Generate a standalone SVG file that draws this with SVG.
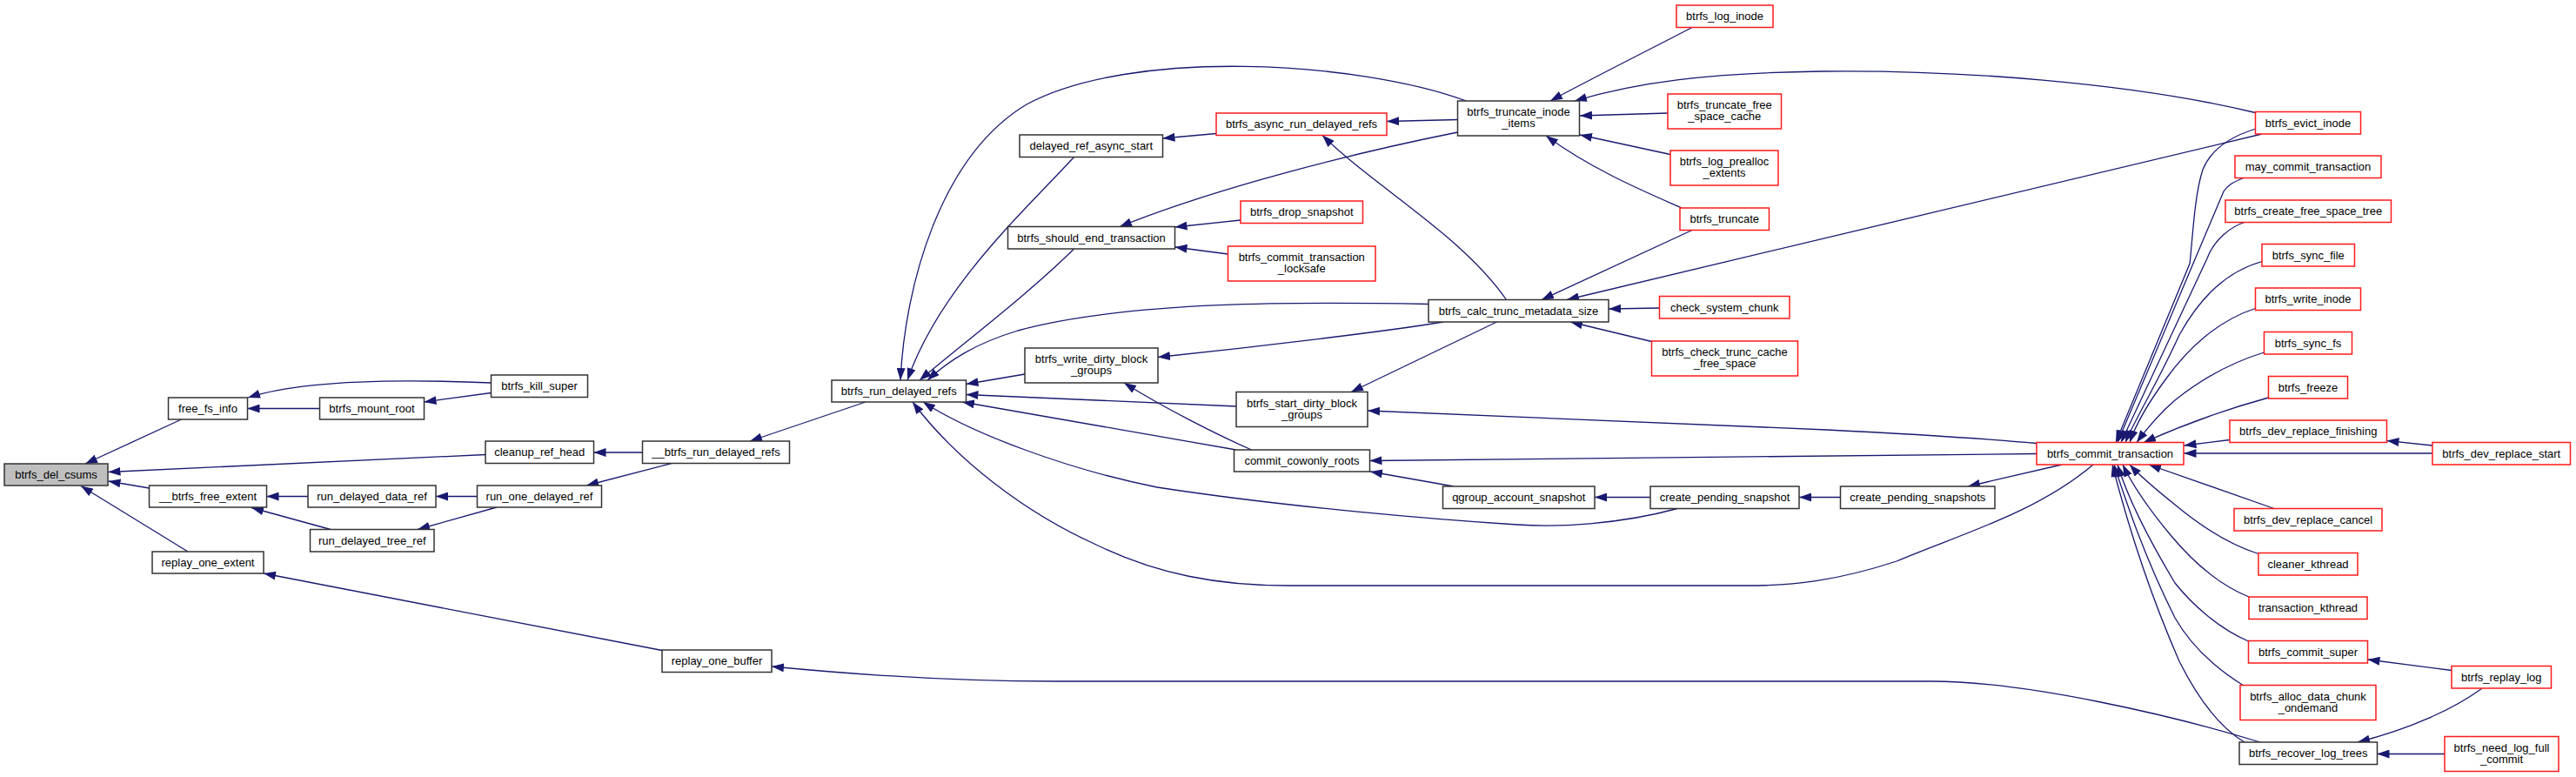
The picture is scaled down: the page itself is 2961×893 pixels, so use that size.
<svg xmlns="http://www.w3.org/2000/svg" width="2961" height="893" viewBox="0 0 2961 893">
<style>
rect{fill:#fff;stroke-width:1.5}
.b{stroke:#333}
.r{stroke:#ff1a1a}
.f{fill:#bfbfbf;stroke:#333}
text{font-family:"Liberation Sans",Arial,sans-serif;font-size:13px;text-anchor:middle;fill:#000}
#edges path{fill:none;stroke:#191970;stroke-width:1.3;marker-end:url(#arr)}
</style>
<defs>
<marker id="arr" markerUnits="userSpaceOnUse" markerWidth="14" markerHeight="10" refX="14" refY="5" orient="auto">
<path d="M0,0 L14,5 L0,10 z" fill="#191970"/>
</marker>
</defs>
<rect x="0" y="0" width="2961" height="893" style="fill:#fff;stroke:none"/>
<g id="edges">
<path d="M208.5,482 L98,533"/>
<path d="M558,522.5 L124.5,542.5"/>
<path d="M171.5,561 L124.5,553"/>
<path d="M216,634 L93,558.5"/>
<path d="M564.5,440 C470,436 350,436 285,457"/>
<path d="M367.5,469.5 L284.5,469.5"/>
<path d="M564.5,451.5 L487.5,462"/>
<path d="M354,570.5 L306.5,570.5"/>
<path d="M380,608.5 L289,583.5"/>
<path d="M548.5,570.5 L501,570.5"/>
<path d="M571,583 L480,608.5"/>
<path d="M738.5,520 L682.5,520"/>
<path d="M772,532.5 L674,558"/>
<path d="M995,462 L862,507"/>
<path d="M761,747.5 L303,659"/>
<path d="M2598,853 C2500,823 2330,783 2220,783 L1212,783 C1100,783 980,775 887,766"/>
<path d="M1685.5,116 C1560,70 1300,55 1180,120 C1080,180 1040,330 1035,437"/>
<path d="M1234.5,180.5 C1180,240 1080,330 1043,437"/>
<path d="M1234.5,286 C1180,340 1100,400 1057,437"/>
<path d="M1642,349.5 C1500,347 1300,345 1170,380 C1120,395 1090,415 1066,437"/>
<path d="M1178,430 L1110.5,441.5"/>
<path d="M1421,467 L1110.5,453.5"/>
<path d="M1421,517 L1106,462"/>
<path d="M1928,584.5 C1860,603 1790,606 1744,603 C1650,597 1480,583 1330,560 C1230,540 1120,500 1061,462"/>
<path d="M2406,534 C2340,590 2250,615 2180,645 C2110,668 2060,673 2008,673 L1480,673 C1400,673 1330,660 1260,626 C1180,590 1100,530 1049,462"/>
<path d="M1398,153.5 L1336.5,159"/>
<path d="M1675.5,137.5 L1594,139.5"/>
<path d="M1731.5,344.5 C1680,270 1580,215 1520,155.5"/>
<path d="M1675.5,152 C1560,175 1400,215 1287,260.5"/>
<path d="M1426,253 L1350.5,261"/>
<path d="M1411.5,292 L1350.5,284"/>
<path d="M1659,370 C1600,380 1450,398 1331,410.5"/>
<path d="M1438.5,517 C1400,500 1340,470 1292,440"/>
<path d="M1720.5,370 L1553,450.5"/>
<path d="M2341,509.5 C2280,504 2220,500 2100,494 L1572,472"/>
<path d="M2341,521.5 L1574.5,529.5"/>
<path d="M1671,559 L1575,542"/>
<path d="M1897,571.5 L1833,571.5"/>
<path d="M2115.5,571.5 L2068,571.5"/>
<path d="M2370,534 L2262,559"/>
<path d="M1945,31.5 C1900,55 1830,90 1782,116"/>
<path d="M2592.5,129.5 C2450,95 2250,80 2093,82 C1960,84 1880,95 1810,116"/>
<path d="M1917,130 L1816,133"/>
<path d="M1920,177.5 L1816,155"/>
<path d="M1933,239 C1890,220 1830,195 1777,156"/>
<path d="M1945,264.5 L1772,344.5"/>
<path d="M2600,154 L1801,344.5"/>
<path d="M1907.5,354 L1849,355"/>
<path d="M1898.5,392.5 L1805,370"/>
<path d="M2593,148 C2560,158 2540,175 2532,195 C2522,225 2520,280 2517,303 L2432,508.5"/>
<path d="M2578.7,204.5 C2565,210 2560,214 2556,220 L2434,508.5"/>
<path d="M2580,255.5 C2565,260 2545,275 2537,297 L2438,508.5"/>
<path d="M2600,300.5 C2560,312 2530,340 2505,385 C2480,440 2455,480 2443,508.5"/>
<path d="M2592.5,354.5 C2550,368 2515,400 2490,435 C2470,462 2456,485 2448,508.5"/>
<path d="M2602.5,405 C2560,418 2525,440 2500,460 C2480,477 2466,495 2456,508.5"/>
<path d="M2607.5,457 C2560,470 2510,488 2464,508.5"/>
<path d="M2563,505.5 L2510.5,512"/>
<path d="M2796,521 L2510.5,521"/>
<path d="M2796,512 L2743.5,506.5"/>
<path d="M2614,584.5 L2470,534"/>
<path d="M2596,636.5 C2560,625 2530,605 2500,580 C2475,560 2458,545 2448,534"/>
<path d="M2585,686 C2550,672 2520,645 2495,615 C2470,585 2450,555 2440,534"/>
<path d="M2584.5,737 C2550,722 2520,695 2500,670 C2470,620 2445,570 2434,534"/>
<path d="M2579,788 C2550,770 2520,745 2500,710 C2465,640 2445,580 2430,534"/>
<path d="M2580,853 C2550,835 2525,800 2505,760 C2470,680 2445,600 2428,534"/>
<path d="M2818,770.5 L2721.5,758"/>
<path d="M2852.5,791.5 C2820,815 2770,838 2710,853"/>
<path d="M2810,866.5 L2732.5,866.5"/>
</g>
<g id="n_btrfs_del_csums"><rect class="f" x="5" y="533" width="119" height="25"/><text x="64.5" y="550">btrfs_del_csums</text></g>
<g id="n_free_fs_info"><rect class="b" x="193.5" y="457" width="91" height="25"/><text x="239" y="474">free_fs_info</text></g>
<g id="n_btrfs_mount_root"><rect class="b" x="367.5" y="457" width="120" height="25"/><text x="427.5" y="474">btrfs_mount_root</text></g>
<g id="n_btrfs_kill_super"><rect class="b" x="564.5" y="431" width="111" height="25.5"/><text x="620" y="448">btrfs_kill_super</text></g>
<g id="n_cleanup_ref_head"><rect class="b" x="558" y="507" width="124.5" height="25.5"/><text x="620.25" y="524">cleanup_ref_head</text></g>
<g id="n___btrfs_free_extent"><rect class="b" x="171.5" y="558" width="135" height="25"/><text x="239" y="575">__btrfs_free_extent</text></g>
<g id="n_run_delayed_data_ref"><rect class="b" x="354" y="558" width="147" height="25"/><text x="427.5" y="575">run_delayed_data_ref</text></g>
<g id="n_run_one_delayed_ref"><rect class="b" x="548.5" y="558" width="143" height="25"/><text x="620" y="575">run_one_delayed_ref</text></g>
<g id="n_run_delayed_tree_ref"><rect class="b" x="356.5" y="608.5" width="142.5" height="25.5"/><text x="427.75" y="625.5">run_delayed_tree_ref</text></g>
<g id="n_replay_one_extent"><rect class="b" x="175" y="634" width="128" height="25"/><text x="239" y="651">replay_one_extent</text></g>
<g id="n___btrfs_run_delayed_refs"><rect class="b" x="738.5" y="507" width="169" height="25.5"/><text x="823" y="524">__btrfs_run_delayed_refs</text></g>
<g id="n_replay_one_buffer"><rect class="b" x="761" y="747" width="126" height="25.5"/><text x="824" y="764">replay_one_buffer</text></g>
<g id="n_btrfs_run_delayed_refs"><rect class="b" x="956" y="437" width="154.5" height="25"/><text x="1033.25" y="454">btrfs_run_delayed_refs</text></g>
<g id="n_delayed_ref_async_start"><rect class="b" x="1172" y="155" width="164.5" height="25.5"/><text x="1254.25" y="172">delayed_ref_async_start</text></g>
<g id="n_btrfs_should_end_transaction"><rect class="b" x="1158.5" y="260.5" width="192" height="25.5"/><text x="1254.5" y="277.5">btrfs_should_end_transaction</text></g>
<g id="n_btrfs_write_dirty_block_groups"><rect class="b" x="1178" y="400" width="153" height="40"/><text x="1254.5" y="417">btrfs_write_dirty_block</text><text x="1254.5" y="430">_groups</text></g>
<g id="n_btrfs_start_dirty_block_groups"><rect class="b" x="1421" y="450.5" width="151" height="40"/><text x="1496.5" y="467.5">btrfs_start_dirty_block</text><text x="1496.5" y="480.5">_groups</text></g>
<g id="n_commit_cowonly_roots"><rect class="b" x="1418.5" y="517" width="156" height="25"/><text x="1496.5" y="534">commit_cowonly_roots</text></g>
<g id="n_btrfs_async_run_delayed_refs"><rect class="r" x="1398" y="130" width="196" height="25.5"/><text x="1496" y="147">btrfs_async_run_delayed_refs</text></g>
<g id="n_btrfs_drop_snapshot"><rect class="r" x="1426" y="231" width="140.5" height="25.5"/><text x="1496.25" y="248">btrfs_drop_snapshot</text></g>
<g id="n_btrfs_commit_transaction_locksafe"><rect class="r" x="1411.5" y="283" width="169.5" height="40"/><text x="1496.25" y="300">btrfs_commit_transaction</text><text x="1496.25" y="313">_locksafe</text></g>
<g id="n_btrfs_truncate_inode_items"><rect class="b" x="1675.5" y="116" width="140" height="40"/><text x="1745.5" y="133">btrfs_truncate_inode</text><text x="1745.5" y="146">_items</text></g>
<g id="n_btrfs_calc_trunc_metadata_size"><rect class="b" x="1642" y="344.5" width="207" height="25.5"/><text x="1745.5" y="361.5">btrfs_calc_trunc_metadata_size</text></g>
<g id="n_qgroup_account_snapshot"><rect class="b" x="1658.5" y="559" width="174.5" height="25.5"/><text x="1745.75" y="576">qgroup_account_snapshot</text></g>
<g id="n_create_pending_snapshot"><rect class="b" x="1897" y="559" width="171" height="25.5"/><text x="1982.5" y="576">create_pending_snapshot</text></g>
<g id="n_create_pending_snapshots"><rect class="b" x="2115.5" y="559" width="177.5" height="25.5"/><text x="2204.25" y="576">create_pending_snapshots</text></g>
<g id="n_btrfs_log_inode"><rect class="r" x="1927" y="6" width="111" height="25.5"/><text x="1982.5" y="23">btrfs_log_inode</text></g>
<g id="n_btrfs_truncate_free_space_cache"><rect class="r" x="1917" y="108" width="130.5" height="40"/><text x="1982.25" y="125">btrfs_truncate_free</text><text x="1982.25" y="138">_space_cache</text></g>
<g id="n_btrfs_log_prealloc_extents"><rect class="r" x="1920" y="173" width="124" height="40"/><text x="1982" y="190">btrfs_log_prealloc</text><text x="1982" y="203">_extents</text></g>
<g id="n_btrfs_truncate"><rect class="r" x="1931" y="239" width="102.5" height="25.5"/><text x="1982.25" y="256">btrfs_truncate</text></g>
<g id="n_check_system_chunk"><rect class="r" x="1907.5" y="340.5" width="149.5" height="25.5"/><text x="1982.25" y="357.5">check_system_chunk</text></g>
<g id="n_btrfs_check_trunc_cache_free_space"><rect class="r" x="1898.5" y="392" width="168" height="40"/><text x="1982.5" y="409">btrfs_check_trunc_cache</text><text x="1982.5" y="422">_free_space</text></g>
<g id="n_btrfs_evict_inode"><rect class="r" x="2592.5" y="128.5" width="121" height="25.5"/><text x="2653" y="145.5">btrfs_evict_inode</text></g>
<g id="n_may_commit_transaction"><rect class="r" x="2569" y="179" width="168" height="25.5"/><text x="2653" y="196">may_commit_transaction</text></g>
<g id="n_btrfs_create_free_space_tree"><rect class="r" x="2558" y="230" width="190.5" height="25.5"/><text x="2653.25" y="247">btrfs_create_free_space_tree</text></g>
<g id="n_btrfs_sync_file"><rect class="r" x="2600" y="280.5" width="106.5" height="25.5"/><text x="2653.25" y="297.5">btrfs_sync_file</text></g>
<g id="n_btrfs_write_inode"><rect class="r" x="2592.5" y="331" width="121" height="25.5"/><text x="2653" y="348">btrfs_write_inode</text></g>
<g id="n_btrfs_sync_fs"><rect class="r" x="2602.5" y="381.5" width="101" height="25.5"/><text x="2653" y="398.5">btrfs_sync_fs</text></g>
<g id="n_btrfs_freeze"><rect class="r" x="2607.5" y="432.5" width="91" height="25.5"/><text x="2653" y="449.5">btrfs_freeze</text></g>
<g id="n_btrfs_commit_transaction"><rect class="r" x="2341" y="508.5" width="169" height="25.5"/><text x="2425.5" y="525.5">btrfs_commit_transaction</text></g>
<g id="n_btrfs_dev_replace_finishing"><rect class="r" x="2563" y="483" width="180.5" height="25.5"/><text x="2653.25" y="500">btrfs_dev_replace_finishing</text></g>
<g id="n_btrfs_dev_replace_start"><rect class="r" x="2796" y="508.5" width="158.5" height="25.5"/><text x="2875.25" y="525.5">btrfs_dev_replace_start</text></g>
<g id="n_btrfs_dev_replace_cancel"><rect class="r" x="2568" y="584.5" width="170" height="25.5"/><text x="2653" y="601.5">btrfs_dev_replace_cancel</text></g>
<g id="n_cleaner_kthread"><rect class="r" x="2596" y="635.5" width="114" height="25.5"/><text x="2653" y="652.5">cleaner_kthread</text></g>
<g id="n_transaction_kthread"><rect class="r" x="2585" y="686" width="136" height="25.5"/><text x="2653" y="703">transaction_kthread</text></g>
<g id="n_btrfs_commit_super"><rect class="r" x="2584.5" y="736.5" width="137" height="25.5"/><text x="2653" y="753.5">btrfs_commit_super</text></g>
<g id="n_btrfs_replay_log"><rect class="r" x="2818" y="765.5" width="114.5" height="25.5"/><text x="2875.25" y="782.5">btrfs_replay_log</text></g>
<g id="n_btrfs_alloc_data_chunk_ondemand"><rect class="r" x="2575" y="787.5" width="156" height="40"/><text x="2653" y="804.5">btrfs_alloc_data_chunk</text><text x="2653" y="817.5">_ondemand</text></g>
<g id="n_btrfs_recover_log_trees"><rect class="b" x="2574" y="853" width="158.5" height="25.5"/><text x="2653.25" y="870">btrfs_recover_log_trees</text></g>
<g id="n_btrfs_need_log_full_commit"><rect class="r" x="2810" y="846.5" width="131" height="40"/><text x="2875.5" y="863.5">btrfs_need_log_full</text><text x="2875.5" y="876.5">_commit</text></g>
</svg>
